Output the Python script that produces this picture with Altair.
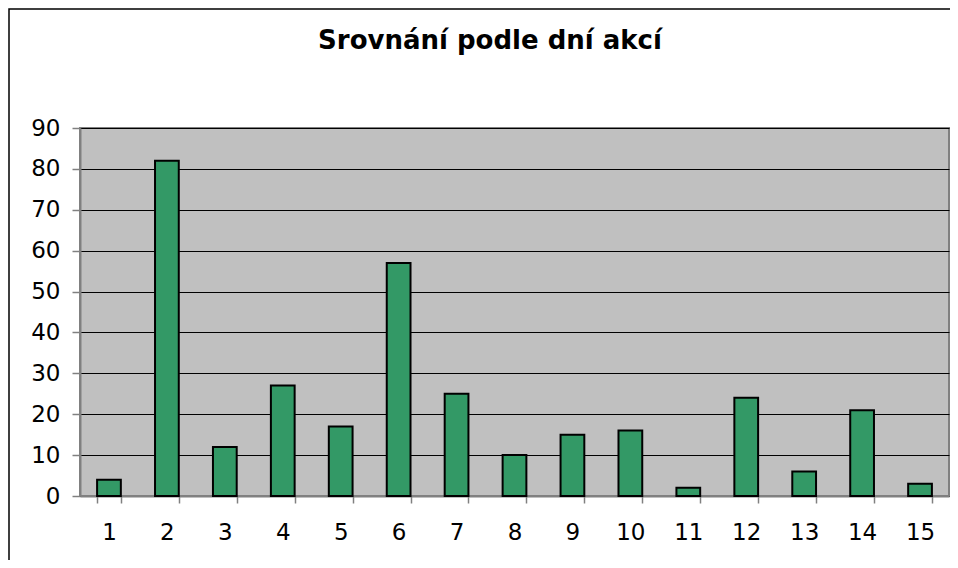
import altair as alt
import pandas as pd

days = [str(i) for i in range(1, 16)]
counts = [4, 82, 12, 27, 17, 57, 25, 10, 15, 16, 2, 24, 6, 21, 3]
title_text = "Srovnání podle dní akcí"

df = pd.DataFrame({"den": days, "pocet": counts})

W, H = 869, 368
FONT = "DejaVu Sans"

frame = alt.Chart(pd.DataFrame({"k": [0]})).mark_rect(
    fill=None, stroke="#000000", strokeWidth=1.5, clip=False
).encode(
    x=alt.value(-71), x2=alt.value(W + 60),
    y=alt.value(-119), y2=alt.value(H + 120),
)

title = alt.Chart(pd.DataFrame({"t": [title_text]})).mark_text(
    font=FONT, fontSize=26, fontWeight="bold", color="#000000",
    align="center", baseline="alphabetic", clip=False
).encode(text="t:N", x=alt.value(410), y=alt.value(-79))

bars = alt.Chart(df).mark_bar(
    fill="#339966", stroke="#000000", strokeWidth=2
).encode(
    x=alt.X("den:N", sort=days, title=None,
            scale=alt.Scale(paddingInner=0.59, paddingOuter=0.295),
            axis=alt.Axis(labelAngle=0, tickBand="extent", tickSize=7,
                          labelPadding=18, domainColor="#808080", domainWidth=2,
                          tickColor="#808080", tickWidth=1.5, grid=False,
                          labelFont=FONT, labelFontSize=23, labelColor="#000000")),
    y=alt.Y("pocet:Q", title=None,
            scale=alt.Scale(domain=[0, 90], nice=False),
            axis=alt.Axis(values=list(range(0, 91, 10)), tickSize=8, labelPadding=12,
                          domainColor="#808080", domainWidth=2,
                          tickColor="#808080", tickWidth=1.5,
                          grid=True, gridColor="#000000", gridWidth=1,
                          labelFont=FONT, labelFontSize=23, labelColor="#000000")),
)

chart = alt.layer(frame, bars, title).properties(
    width=W, height=H,
    autosize=alt.AutoSizeParams(type="none"),
    padding={"left": 72, "top": 120, "right": 1, "bottom": 64},
    background="#ffffff",
).configure_view(
    fill="#C0C0C0", stroke="#808080", strokeWidth=2
)

chart.save("out.html", embed_options={"renderer": "svg", "actions": False})
